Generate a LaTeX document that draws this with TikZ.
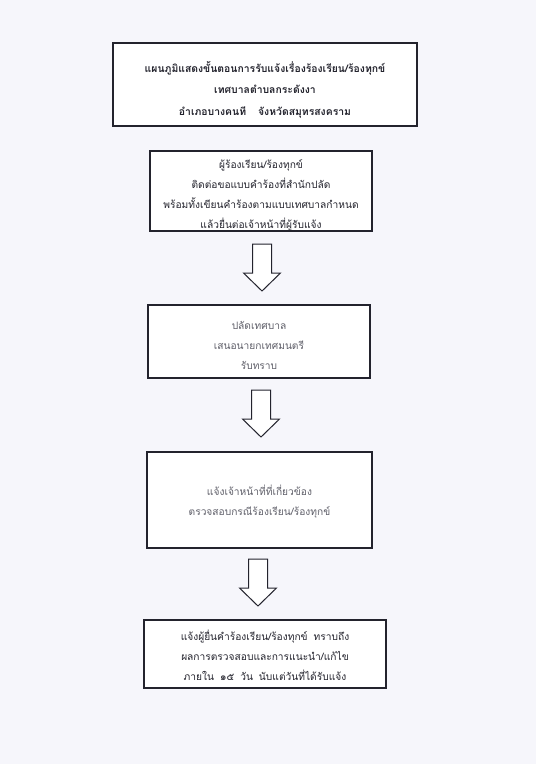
\documentclass[tikz,border=0pt]{standalone}
\usepackage{fontspec}
\newfontfamily\thai[Script=Thai]{Loma}
\definecolor{paper}{RGB}{246,246,251}
\definecolor{ink}{RGB}{35,35,45}
\definecolor{faded}{RGB}{95,95,105}
\tikzset{
  box/.style={draw=ink, line width=1.2pt, fill=white, inner sep=0pt},
  txt/.style={align=center, inner sep=0pt, font=\thai\fontsize{10.2}{20}\selectfont, text=ink},
  blockarrow/.pic={\draw[draw=ink, line width=1pt, fill=white, line join=miter]
    (-9.5,0) -- (9.5,0) -- (9.5,29) -- (18.5,29) -- (0,47) -- (-18.5,29) -- (-9.5,29) -- cycle;}
}
\begin{document}
\begin{tikzpicture}[x=1pt,y=-1pt]
\fill[paper] (0,0) rectangle (536,764);
\useasboundingbox (0,0) rectangle (536,764);

\node[box, line width=1.6pt, minimum width=304pt, minimum height=83pt] (title) at (265,84.5) {};
\node[txt, font=\thai\bfseries\fontsize{10.4}{21.5}\selectfont] (ttitle)
  at ([yshift=-5pt]title.center)
  {แผนภูมิแสดงขั้นตอนการรับแจ้งเรื่องร้องเรียน/ร้องทุกข์\\
   เทศบาลตำบลกระดังงา\\
   อำเภอบางคนที\hspace{12pt}จังหวัดสมุทรสงคราม};

\node[box, minimum width=222pt, minimum height=80pt] (b1) at (261,191) {};
\node[txt] (t1) at ([yshift=-4.5pt]b1.center)
  {ผู้ร้องเรียน/ร้องทุกข์\\
   ติดต่อขอแบบคำร้องที่สำนักปลัด\\
   พร้อมทั้งเขียนคำร้องตามแบบเทศบาลกำหนด\\
   แล้วยื่นต่อเจ้าหน้าที่ผู้รับแจ้ง};

\node[box, minimum width=222pt, minimum height=73pt] (b2) at (259,341.5) {};
\node[txt, text=faded] (t2) at ([yshift=-4pt]b2.center)
  {ปลัดเทศบาล\\
   เสนอนายกเทศมนตรี\\
   รับทราบ};

\node[box, minimum width=225pt, minimum height=96pt] (b3) at (259.5,500) {};
\node[txt, text=faded] (t3) at ([yshift=-2pt]b3.center)
  {แจ้งเจ้าหน้าที่ที่เกี่ยวข้อง\\
   ตรวจสอบกรณีร้องเรียน/ร้องทุกข์};

\node[box, minimum width=242pt, minimum height=68pt] (b4) at (265,654) {};
\node[txt] (t4) at ([yshift=-1.5pt]b4.center)
  {แจ้งผู้ยื่นคำร้องเรียน/ร้องทุกข์\hspace{6pt}ทราบถึง\\
   ผลการตรวจสอบและการแนะนำ/แก้ไข\\
   ภายใน\hspace{6pt}๑๕\hspace{6pt}วัน\hspace{6pt}นับแต่วันที่ได้รับแจ้ง};

\coordinate (a1) at (262,244);
\coordinate (a2) at (261,390);
\coordinate (a3) at (258,559);
\pic at (a1) {blockarrow};
\pic at (a2) {blockarrow};
\pic at (a3) {blockarrow};
\end{tikzpicture}
\end{document}
